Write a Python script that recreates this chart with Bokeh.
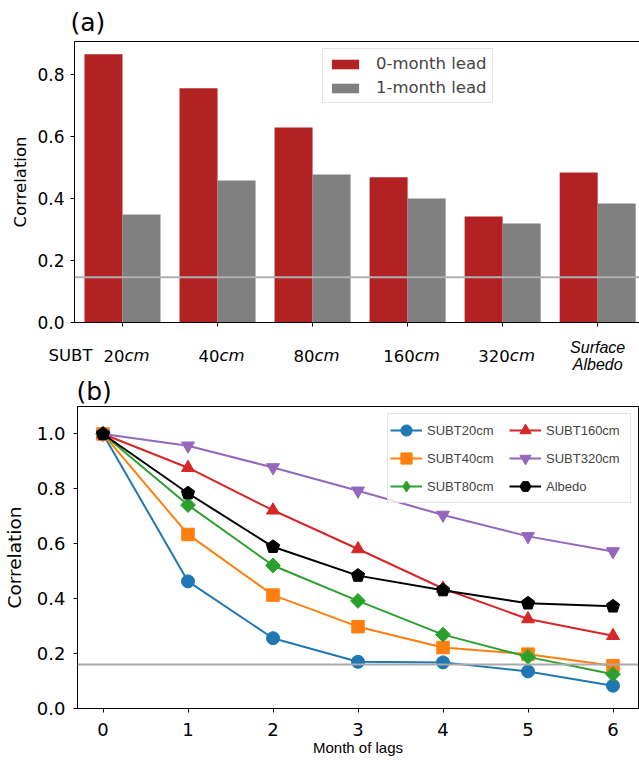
import math
from bokeh.plotting import figure
from bokeh.models import (ColumnDataSource, FixedTicker, Span, Legend,
                          LegendItem, LinearAxis, Range1d)
from bokeh.layouts import column
from bokeh.core.properties import value
from bokeh.embed import file_html
from bokeh.resources import INLINE
from bokeh.transform import dodge

# ---------------- Panel (a) data ----------------
depths = ["20", "40", "80", "160", "320"]
depth_unit = "cm"
depth_prefix = "SUBT"
last_category = ["Surface", "Albedo"]
lead0 = [0.865, 0.755, 0.629, 0.468, 0.342, 0.484]
lead1 = [0.348, 0.458, 0.477, 0.400, 0.319, 0.384]
lead_labels = ["0-month lead", "1-month lead"]
sig_a = 0.146
a_yticks = [0.0, 0.2, 0.4, 0.6, 0.8]
a_ytick_labels = ["0.0", "0.2", "0.4", "0.6", "0.8"]

# ---------------- Panel (b) data ----------------
lags = [0, 1, 2, 3, 4, 5, 6]
subt20 = [1.0, 0.463, 0.256, 0.170, 0.168, 0.135, 0.083]
subt40 = [1.0, 0.634, 0.413, 0.298, 0.222, 0.198, 0.156]
subt80 = [1.0, 0.741, 0.521, 0.392, 0.269, 0.188, 0.125]
subt160 = [1.0, 0.877, 0.722, 0.581, 0.437, 0.326, 0.265]
subt320 = [1.0, 0.957, 0.878, 0.793, 0.705, 0.627, 0.572]
albedo = [1.0, 0.784, 0.589, 0.484, 0.431, 0.383, 0.372]
series_names = ["SUBT20cm", "SUBT40cm", "SUBT80cm", "SUBT160cm", "SUBT320cm", "Albedo"]
sig_b = 0.160
b_yticks = [0.0, 0.2, 0.4, 0.6, 0.8, 1.0]
b_ytick_labels = ["0.0", "0.2", "0.4", "0.6", "0.8", "1.0"]
b_xtick_labels = ["0", "1", "2", "3", "4", "5", "6"]

DEJAVU = "DejaVu Sans"
ARIAL = "Liberation Sans"
SPINE = "black"
W = 639


def no_frame_align(p):
    try:
        p.frame_align = False
    except Exception:
        pass


def style_axis(ax, fs, font=DEJAVU, standoff=5):
    ax.axis_line_color = SPINE
    ax.axis_line_width = 1
    ax.major_tick_line_color = SPINE
    ax.major_tick_line_width = 1
    ax.major_tick_in = 0
    ax.major_tick_out = 4
    ax.minor_tick_line_color = None
    ax.major_label_text_font = font
    ax.major_label_text_font_size = fs
    ax.major_label_text_color = "black"
    ax.major_label_standoff = standoff
    ax.axis_label_text_font_style = "normal"
    ax.axis_label_text_color = "black"


def style_title(p, text, offset, standoff):
    p.title.text = text
    p.title.text_font = DEJAVU
    p.title.text_font_size = "25px"
    p.title.text_font_style = "normal"
    p.title.text_color = "black"
    p.title.align = "left"
    p.title.offset = offset
    p.title.standoff = standoff


# ================= Panel (a) =================
A_LEFT, A_TOP, A_FRAME_H, A_BOTTOM = 74, 41, 281, 10
a_x0, a_x1 = -0.505, 5.44
xa = list(range(len(lead0)))
src_a = ColumnDataSource(dict(x=xa, lead0=lead0, lead1=lead1))

pa = figure(width=W, height=A_TOP + A_FRAME_H + A_BOTTOM, output_backend="svg",
            toolbar_location=None,
            x_range=Range1d(a_x0, a_x1), y_range=Range1d(0, 0.906),
            min_border_left=A_LEFT, min_border_right=0, min_border_top=A_TOP,
            min_border_bottom=A_BOTTOM)
no_frame_align(pa)
pa.outline_line_color = None
pa.xgrid.visible = False
pa.ygrid.visible = False
pa.background_fill_color = "white"
pa.border_fill_color = "white"
style_title(pa, "(a)", -4, 10)

r0 = pa.vbar(x=dodge("x", -0.2), top="lead0", width=0.4, source=src_a,
             fill_color="#b22222", line_color=None)
r1 = pa.vbar(x=dodge("x", 0.2), top="lead1", width=0.4, source=src_a,
             fill_color="#808080", line_color=None)

pa.add_layout(Span(location=sig_a, dimension="width", line_color="#b0b0b0",
                   line_width=2))

style_axis(pa.yaxis[0], "17px", standoff=6)
pa.yaxis.ticker = FixedTicker(ticks=a_yticks)
pa.yaxis.major_label_overrides = dict(zip(a_yticks, a_ytick_labels))
pa.yaxis.axis_label = "Correlation"
pa.yaxis.axis_label_text_font = DEJAVU
pa.yaxis.axis_label_text_font_size = "16.5px"
pa.yaxis.axis_label_standoff = 4

style_axis(pa.xaxis[0], "1px", standoff=0)
pa.xaxis.ticker = FixedTicker(ticks=xa)
pa.xaxis.major_label_overrides = {i: "" for i in xa}

top_ax = LinearAxis(ticker=FixedTicker(ticks=[]), axis_line_color=SPINE,
                    axis_line_width=1, major_tick_line_color=None,
                    minor_tick_line_color=None, major_tick_out=0,
                    major_label_standoff=0, major_label_text_font_size="1px")
pa.add_layout(top_ax, "above")

leg_a = Legend(items=[LegendItem(label=lead_labels[0], renderers=[r0]),
                      LegendItem(label=lead_labels[1], renderers=[r1])],
               location=(248, 219), label_text_font=DEJAVU,
               label_text_font_size="16.5px", glyph_width=34, glyph_height=12,
               label_standoff=14, spacing=5, padding=5, margin=0,
               border_line_color="#cccccc", border_line_width=1,
               background_fill_alpha=0.8)
pa.add_layout(leg_a)

# ---- category labels of panel (a): a strip sharing the x scale of (a) ----
LAB_H = 40
ppu = (W - A_LEFT) / (a_x1 - a_x0)
lab = figure(width=W, height=LAB_H, output_backend="svg", toolbar_location=None,
             title_location=None,
             x_range=Range1d(a_x0 - A_LEFT / ppu, a_x1), y_range=Range1d(LAB_H, 0),
             x_axis_type=None, y_axis_type=None,
             min_border_left=0, min_border_right=0, min_border_top=0,
             min_border_bottom=0)
no_frame_align(lab)
lab.outline_line_color = None
lab.background_fill_color = "white"
lab.border_fill_color = "white"

FS = 16.5
ROW = 23                 # baseline of the single-line labels (from strip top)
TWO_ROWS = [14.5, 31.5]  # baselines of the two-line label
dig_w = 0.636 * FS
cm_w = 1.524 * FS
offs = [4 + (len(d) * dig_w - cm_w) / 2 for d in depths]
nd = len(depths)
lab.text(x=xa[:nd], y=[ROW] * nd, text=depths, x_offset=offs,
         text_align="right", text_baseline="alphabetic",
         text_font=value(DEJAVU), text_font_size="16.5px", text_color="black")
lab.text(x=xa[:nd], y=[ROW] * nd, text=[depth_unit] * nd, x_offset=offs,
         text_align="left", text_baseline="alphabetic",
         text_font=value(DEJAVU), text_font_style="italic",
         text_font_size="16.5px", text_color="black")
lab.text(x=[xa[0]], y=[ROW], text=[depth_prefix], x_offset=-30,
         text_align="right", text_baseline="alphabetic",
         text_font=value(DEJAVU), text_font_size="16.5px", text_color="black")
lab.text(x=[xa[-1]] * len(last_category), y=TWO_ROWS, text=last_category,
         text_align="center", text_baseline="alphabetic",
         text_font=value(ARIAL), text_font_style="italic",
         text_font_size="16px", text_color="black")

# ================= Panel (b) =================
B_LEFT, B_TOP, B_FRAME_H, B_BOTTOM, B_RIGHT = 75, 34, 302, 53, 1
b_x0, b_x1, b_y0, b_y1 = -0.3, 6.3, 0.0, 1.1
src_b = ColumnDataSource(dict(lags=lags, subt20=subt20, subt40=subt40,
                              subt80=subt80, subt160=subt160, subt320=subt320,
                              albedo=albedo))

pb = figure(width=W, height=B_TOP + B_FRAME_H + B_BOTTOM, output_backend="svg",
            toolbar_location=None,
            x_range=Range1d(b_x0, b_x1), y_range=Range1d(b_y0, b_y1),
            min_border_left=B_LEFT, min_border_right=B_RIGHT,
            min_border_top=B_TOP, min_border_bottom=B_BOTTOM)
no_frame_align(pb)
pb.outline_line_color = SPINE
pb.outline_line_width = 1
pb.xgrid.visible = False
pb.ygrid.visible = False
pb.background_fill_color = "white"
pb.border_fill_color = "white"
style_title(pb, "(b)", -1, 2)

pb.add_layout(Span(location=sig_b, dimension="width", line_color="#aaaaaa",
                   line_width=2))

cols = ["subt20", "subt40", "subt80", "subt160", "subt320"]
colors = ["#1f77b4", "#ff7f0e", "#2ca02c", "#d62728", "#9467bd"]
markers = ["circle", "square", "square", "triangle", "inverted_triangle"]
legend_markers = ["circle", "square", "diamond", "triangle", "inverted_triangle"]
sizes = [13, 12.5, 10.5, 13, 13]
angles = [0, 0, math.pi / 4, 0, 0]
items_b = []
for c, col, mk, lmk, sz, ang, name in zip(cols, colors, markers, legend_markers,
                                          sizes, angles, series_names):
    rl = pb.line("lags", c, source=src_b, line_color=col, line_width=2)
    rm = pb.scatter("lags", c, source=src_b, marker=mk, size=sz, angle=ang,
                    fill_color=col, line_color=col)
    if lmk == mk:
        items_b.append(LegendItem(label=name, renderers=[rl, rm]))
    else:
        # legend-only glyph (size 0 on the plot, drawn at legend size)
        lp = pb.scatter("lags", c, source=src_b, marker=lmk, size=0,
                        fill_color=col, line_color=col)
        items_b.append(LegendItem(label=name, renderers=[rl, lp]))

# Albedo: line + upward pentagon markers (pentagon of fixed screen radius)
rl = pb.line("lags", "albedo", source=src_b, line_color="black", line_width=2)
px_x = (W - B_LEFT - B_RIGHT) / (b_x1 - b_x0)
px_y = B_FRAME_H / (b_y1 - b_y0)
R = 7.0
pent_xs, pent_ys = [], []
for xv, yv in zip(lags, albedo):
    angs = [math.pi / 2 + 2 * math.pi * k / 5 for k in range(5)]
    pent_xs.append([xv + R * math.cos(a) / px_x for a in angs])
    pent_ys.append([yv + R * math.sin(a) / px_y for a in angs])
pb.patches(pent_xs, pent_ys, fill_color="black", line_color="black",
           line_width=1)
proxy = pb.scatter("lags", "albedo", source=src_b, marker="hex", size=0,
                   fill_color="black", line_color="black")
items_b.append(LegendItem(label=series_names[5], renderers=[rl, proxy]))

style_axis(pb.yaxis[0], "18px", standoff=8)
pb.yaxis.ticker = FixedTicker(ticks=b_yticks)
pb.yaxis.major_label_overrides = dict(zip(b_yticks, b_ytick_labels))
pb.yaxis.axis_label = "Correlation"
pb.yaxis.axis_label_text_font = DEJAVU
pb.yaxis.axis_label_text_font_size = "18.5px"
pb.yaxis.axis_label_standoff = 9

style_axis(pb.xaxis[0], "18px", standoff=10)
pb.xaxis.ticker = FixedTicker(ticks=lags)
pb.xaxis.major_label_overrides = dict(zip(lags, b_xtick_labels))
pb.xaxis.axis_label = "Month of lags"
pb.xaxis.axis_label_text_font = ARIAL
pb.xaxis.axis_label_text_font_size = "15px"
pb.xaxis.axis_label_standoff = 0

leg_b = Legend(items=items_b, location="top_right", ncols=2,
               label_text_font=ARIAL, label_text_font_size="13px",
               glyph_width=32, glyph_height=28, label_standoff=5,
               label_width=82, spacing=-4, padding=2, margin=7,
               border_line_color="#cccccc", border_line_width=1,
               background_fill_alpha=0.8)
pb.add_layout(leg_b)

layout = column(pa, lab, pb)
open("out.html", "w").write(file_html(layout, INLINE))
